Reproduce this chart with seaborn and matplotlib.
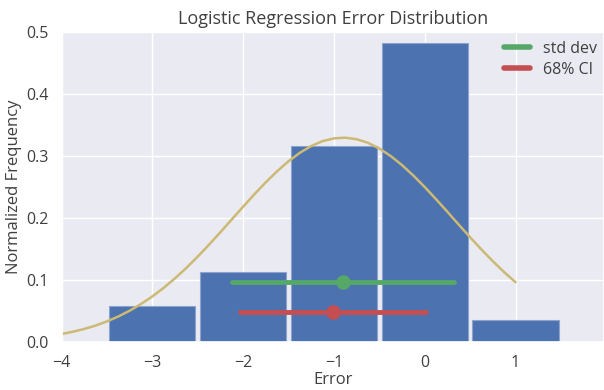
import numpy as np
import pandas as pd
import matplotlib
matplotlib.use("Agg")
import matplotlib.pyplot as plt
import seaborn as sns
from matplotlib.lines import Line2D

# ---- data ----
bin_edges = [-3.5, -2.5, -1.5, -0.5, 0.5, 1.5]
bin_centers = [-3, -2, -1, 0, 1]
frequencies = [0.058, 0.112, 0.317, 0.482, 0.035]

curve_x = [-4.0, -3.875, -3.75, -3.625, -3.5, -3.375, -3.25, -3.125, -3.0, -2.875,
           -2.75, -2.625, -2.5, -2.375, -2.25, -2.125, -2.0, -1.875, -1.75, -1.625,
           -1.5, -1.375, -1.25, -1.125, -1.0, -0.875, -0.75, -0.625, -0.5, -0.375,
           -0.25, -0.125, 0.0, 0.125, 0.25, 0.375, 0.5, 0.625, 0.75, 0.875, 1.0]
curve_y = [0.0124, 0.0161, 0.0206, 0.0260, 0.0328, 0.0407, 0.0500, 0.0609, 0.0731,
           0.0870, 0.1024, 0.1192, 0.1375, 0.1568, 0.1769, 0.1976, 0.2181, 0.2384,
           0.2576, 0.2755, 0.2916, 0.3053, 0.3162, 0.3241, 0.3286, 0.3297, 0.3272,
           0.3214, 0.3122, 0.3001, 0.2854, 0.2685, 0.2500, 0.2303, 0.2099, 0.1892,
           0.1688, 0.1490, 0.1301, 0.1124, 0.0961]

std_x = [-2.12, 0.32]
std_y = [0.0964, 0.0964]
std_center = [-0.90]
ci_x = [-2.03, 0.01]
ci_y = [0.0482, 0.0482]
ci_center = [-1.01]

x_ticks = [-4, -3, -2, -1, 0, 1]
y_ticks = [0.0, 0.1, 0.2, 0.3, 0.4, 0.5]

# ---- style ----
sns.set_theme(style="darkgrid", context="notebook")
plt.rcParams["font.family"] = ["Open Sans", "DejaVu Sans"]
plt.rcParams["text.color"] = ".25"
plt.rcParams["axes.labelcolor"] = ".25"
plt.rcParams["xtick.color"] = ".25"
plt.rcParams["ytick.color"] = ".25"

blue = "#4C72B0"
green = "#55A868"
red = "#C44E52"
khaki = "#CCB974"

fig = plt.figure(figsize=(6.04, 3.90), dpi=100)
ax = fig.add_axes([61.5 / 604, 1 - 341.7 / 390, (604 - 61.5) / 604, (341.7 - 32.3) / 390])

sns.histplot(x=bin_centers, weights=frequencies, bins=bin_edges, shrink=0.95,
             color=blue, alpha=1.0, edgecolor="#8AA3CF", linewidth=0.8, ax=ax)

sns.lineplot(x=curve_x, y=curve_y, color=khaki, lw=1.8, ax=ax, estimator=None, sort=False)

sns.lineplot(x=std_x, y=std_y, color=green, lw=3.5, ax=ax, estimator=None)
ax.plot(std_center, [std_y[0]], "o", color=green, markersize=9.5)
sns.lineplot(x=ci_x, y=ci_y, color=red, lw=3.5, ax=ax, estimator=None)
ax.plot(ci_center, [ci_y[0]], "o", color=red, markersize=9.5)

ax.set_xlim(-4, -4 + (604 - 61.5) / 90.8)
ax.set_ylim(0, 0.5)
ax.set_xticks(x_ticks)
ax.set_yticks(y_ticks)
ax.set_xticklabels(["\u22124", "\u22123", "\u22122", "\u22121", "0", "1"])
ax.set_yticklabels(["0.0", "0.1", "0.2", "0.3", "0.4", "0.5"])
ax.tick_params(labelsize=11.5)

ax.set_title("Logistic Regression Error Distribution", fontsize=13)
ax.set_xlabel("Error", fontsize=12, labelpad=1)
ax.set_ylabel("Normalized Frequency", fontsize=12, labelpad=3)

handles = [Line2D([0], [0], color=green, lw=4, solid_capstyle="round"),
           Line2D([0], [0], color=red, lw=4, solid_capstyle="round")]
ax.legend(handles, ["std dev", "68% CI"], loc="upper left",
          bbox_to_anchor=(503.8 / 604, 1 - 41 / 390), bbox_transform=fig.transFigure,
          frameon=False, fontsize=11.5, handlelength=1.65, handletextpad=0.8,
          labelspacing=0.3, borderpad=0, borderaxespad=0)

fig.savefig("out.png", dpi=100)
